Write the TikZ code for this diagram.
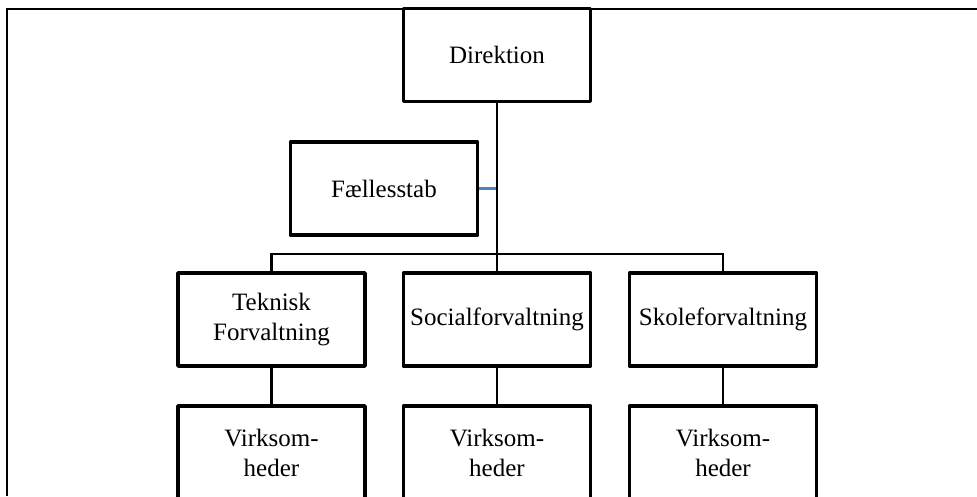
\documentclass[tikz,border=0pt]{standalone}
\usepackage{fontspec}
\setmainfont{Liberation Serif}
\definecolor{stubblue}{HTML}{4F81BD}

\begin{document}
\begin{tikzpicture}[x=1pt,y=1pt,
		box/.style={rectangle,draw,line width=3.6pt,line join=round,minimum width=187pt,minimum height=93pt,inner sep=2pt,align=center,font=\fontsize{25}{30}\selectfont},
		conn/.style={line width=2.7pt},
		stub/.style={line width=2.7pt,draw=stubblue}]
			\useasboundingbox (0,0) rectangle (977,-496);
			\clip (0,0) rectangle (977,-496);
			\draw[line width=2.6pt] (7,-496) -- (7,-9) -- (977,-9);
			\draw (497,-55) node [box] (dir) {Direktion};
			\draw (384,-188.5) node [box] (stab) {Fællesstab};
			\draw (271.5,-319.5) node [box] (tek) {Teknisk\\Forvaltning};
			\draw (497,-319.5) node [box] (soc) {Socialforvaltning};
			\draw (723,-319.5) node [box] (skole) {Skoleforvaltning};
			\draw (271.5,-452.5) node [box] (v1) {Virksom-\\heder};
			\draw (497,-452.5) node [box] (v2) {Virksom-\\heder};
			\draw (723,-452.5) node [box] (v3) {Virksom-\\heder};
			\coordinate (bus) at (497,-254);
			\draw[stub] (stab) -- (stab -| bus);
			\draw[conn] (tek.north) |- (bus) -| (skole.north);
			\path[conn]
				(dir) edge (bus)
				(bus) edge (soc)
				(tek) edge (v1)
				(soc) edge (v2)
				(skole) edge (v3);
		\end{tikzpicture}
\end{document}
